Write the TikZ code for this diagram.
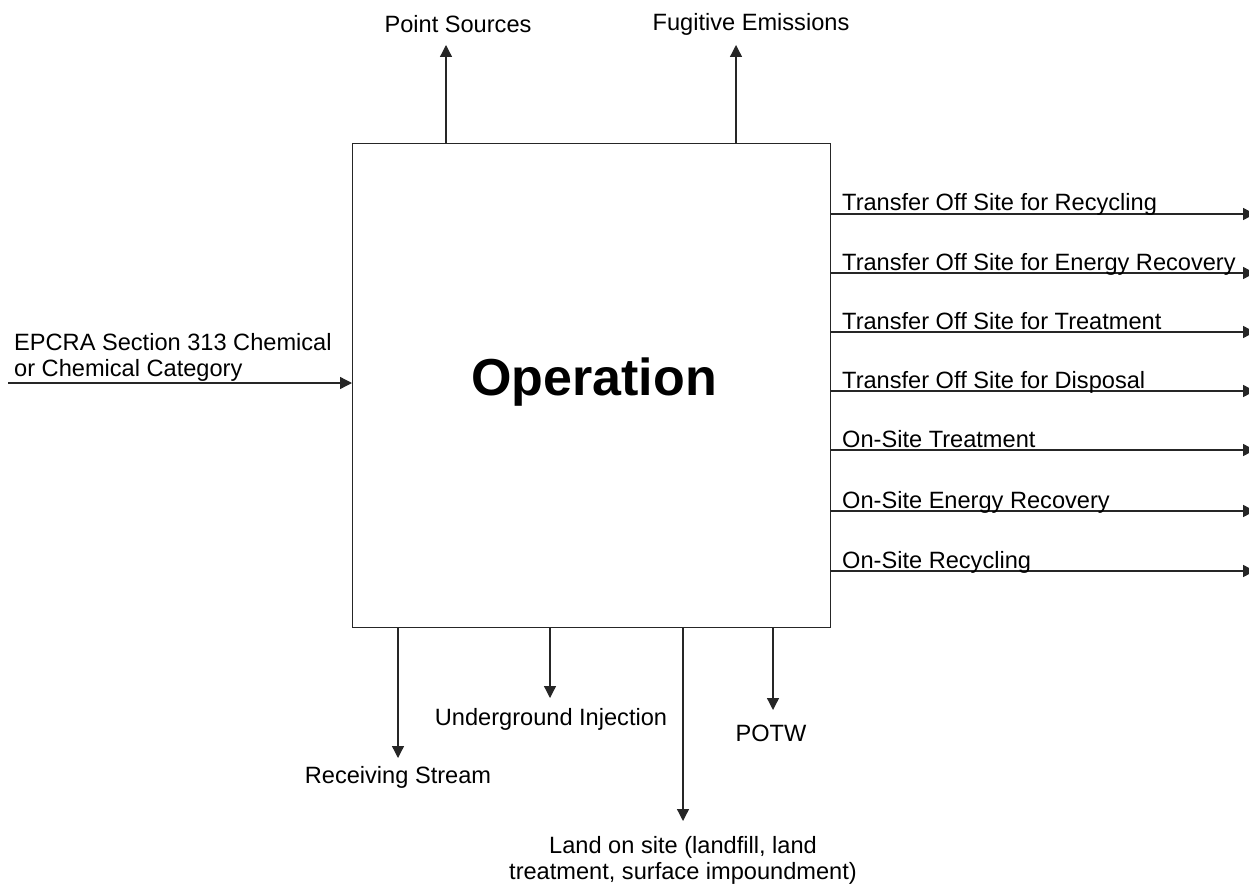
\documentclass[tikz,border=0pt]{standalone}
\usepackage{fontspec}
\setmainfont{Liberation Sans}
\usetikzlibrary{arrows.meta}
\begin{document}
\begin{tikzpicture}[x=1pt,y=-1pt,
  lbl/.style={font=\fontsize{23.6}{26}\selectfont, inner sep=0pt},
  flow/.style={line width=1.3pt, draw=black!85, -{Triangle[length=12pt,width=12pt]}}]
\useasboundingbox (0,0) rectangle (1249,885);
\clip (0,0) rectangle (1249,885);
\node[draw=black!85, line width=1.3pt, minimum width=478pt, minimum height=484pt, inner sep=0pt, anchor=north west] (op) at (352,143) {};
\node[font=\fontsize{52}{60}\bfseries\selectfont] (optxt) at (594,382) {Operation};
% top
\coordinate (t1) at (446,45);
\coordinate (t2) at (736,45);
\draw[flow] (op.north west -| t1) -- (t1);
\draw[flow] (op.north west -| t2) -- (t2);
\node[lbl] (ps) at (458,24) {Point Sources};
\node[lbl] (fe) at (751,24) {Fugitive Emissions};
% left
\coordinate (l0) at (8,383);
\draw[flow] (l0) -- (l0 -| op.west);
\node[lbl, anchor=south west, align=left] (ep) at (14,382) {EPCRA Section 313 Chemical\\or Chemical Category};
% right
\foreach \y/\t [count=\i] in {214/Transfer Off Site for Recycling,
  273/Transfer Off Site for Energy Recovery,
  332/Transfer Off Site for Treatment,
  391/Transfer Off Site for Disposal,
  450/On-Site Treatment,
  511/On-Site Energy Recovery,
  571/On-Site Recycling}{
  \coordinate (r\i) at (1255,\y);
  \draw[flow] (op.east |- r\i) -- (r\i);
  \node[lbl, anchor=base west] (rl\i) at (842,\y-3) {\t};
}
% bottom
\coordinate (b1) at (398,758);
\coordinate (b2) at (550,698);
\coordinate (b3) at (683,821);
\coordinate (b4) at (773,710);
\draw[flow] (op.south west -| b1) -- (b1);
\draw[flow] (op.south west -| b2) -- (b2);
\draw[flow] (op.south west -| b3) -- (b3);
\draw[flow] (op.south west -| b4) -- (b4);
\node[lbl] (rs) at (398,777) {Receiving Stream};
\node[lbl] (ui) at (551,719) {Underground Injection};
\node[lbl] (po) at (771,733) {POTW};
\node[lbl, align=center] (ls) at (683,860) {Land on site (landfill, land\\treatment, surface impoundment)};
\end{tikzpicture}
\end{document}
